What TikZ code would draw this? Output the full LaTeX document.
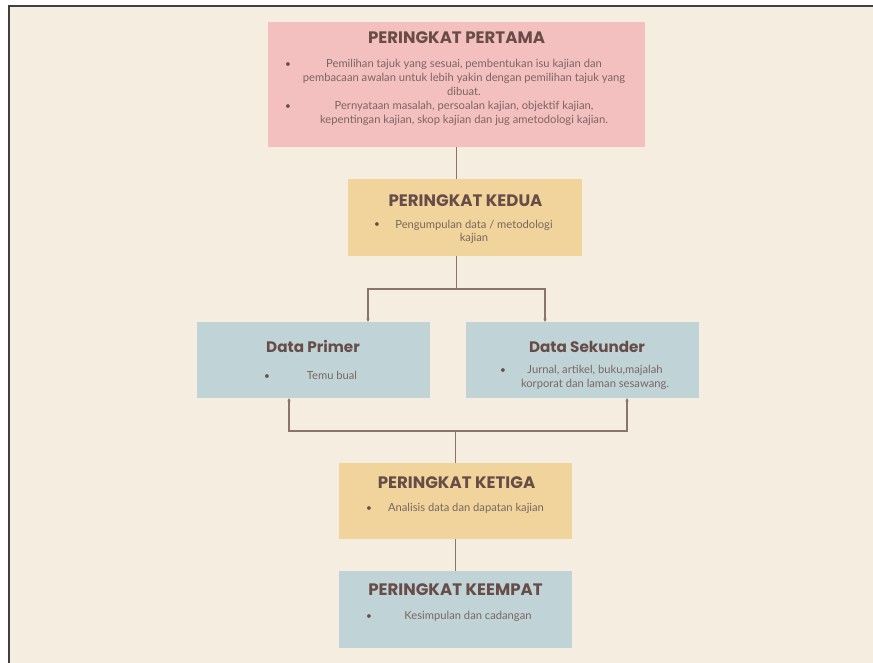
\documentclass[tikz,border=0pt]{standalone}
\usepackage{fontspec}
\usetikzlibrary{arrows.meta}
\newfontfamily\judulfont{Poppins}
\newfontfamily\isifont{Lato}
\definecolor{latarkrim}{RGB}{245,237,223}
\definecolor{merahjambu}{RGB}{244,191,191}
\definecolor{kuningpasir}{RGB}{241,212,155}
\definecolor{birukelabu}{RGB}{192,212,216}
\definecolor{judulcoklat}{RGB}{104,76,71}
\definecolor{isicoklat}{RGB}{122,102,97}
\definecolor{garisan}{RGB}{139,116,107}

\tikzset{
  kotak/.style={inner sep=0pt, outer sep=0pt},
  judul/.style={font=\judulfont\bfseries\fontsize{16.6}{16.6}\selectfont, text=judulcoklat, anchor=base, inner sep=0pt},
  judulkecil/.style={judul, font=\judulfont\bfseries\fontsize{15.2}{15.2}\selectfont},
  isi/.style={font=\isifont\fontsize{11.2}{13.9}\selectfont, text=isicoklat, align=center, anchor=base, inner sep=0pt},
  titik/.style={font=\isifont\fontsize{10}{10}\selectfont, text=judulcoklat, anchor=base, inner sep=0pt},
  garis/.style={draw=garisan, line width=1.2pt},
  panah/.style={garis, -{Stealth[length=3.5pt,width=3.2pt]}}
}

\begin{document}
\begin{tikzpicture}[x=1pt,y=-1pt]
  \useasboundingbox (0,0) rectangle (873,663);
  % latar dan bingkai
  \fill[white] (0,0) rectangle (873,663);
  \fill[latarkrim] (9.2,5.8) rectangle (873,663);
  \draw[line width=1.7pt, black!75] (9.2,663) -- (9.2,5.8) -- (873,5.8);

  % kotak-kotak peringkat
  \node[kotak, fill=merahjambu, minimum width=377pt, minimum height=125pt] (pertama) at (456.5,84.5) {};
  \node[kotak, fill=kuningpasir, minimum width=234pt, minimum height=77pt] (kedua) at (465,217.5) {};
  \node[kotak, fill=birukelabu, minimum width=233pt, minimum height=76pt] (primer) at (313.5,360) {};
  \node[kotak, fill=birukelabu, minimum width=233pt, minimum height=76pt] (sekunder) at (582.5,360) {};
  \node[kotak, fill=kuningpasir, minimum width=233pt, minimum height=76pt] (ketiga) at (455.5,501) {};
  \node[kotak, fill=birukelabu, minimum width=233pt, minimum height=77pt] (keempat) at (455.5,609.5) {};

  % tajuk
  \node[judul] (pertama-judul) at (456.5,44) {PERINGKAT PERTAMA};
  \node[judul] (kedua-judul) at (465.5,207) {PERINGKAT KEDUA};
  \node[judulkecil] (primer-judul) at (313,352) {Data Primer};
  \node[judulkecil] (sekunder-judul) at (587,352) {Data Sekunder};
  \node[judul] (ketiga-judul) at (456.5,488) {PERINGKAT KETIGA};
  \node[judul] (keempat-judul) at (455.5,595) {PERINGKAT KEEMPAT};

  % isi (titik dasar = baris terakhir)
  \node[isi] (pertama-isi) at (464,123.5) {Pemilihan tajuk yang sesuai, pembentukan isu kajian dan\\pembacaan awalan untuk lebih yakin dengan pemilihan tajuk yang\\dibuat.\\Pernyataan masalah, persoalan kajian, objektif kajian,\\kepentingan kajian, skop kajian dan jug ametodologi kajian.};
  \node[titik] (pertama-titik1) at (288,68) {\textbullet};
  \node[titik] (pertama-titik2) at (288,109.6) {\textbullet};
  \node[isi] (kedua-isi) at (474,242) {Pengumpulan data / metodologi\\kajian};
  \node[titik] (kedua-titik) at (377,228) {\textbullet};
  \node[isi] (primer-isi) at (332,379) {Temu bual};
  \node[titik] (primer-titik) at (267,379) {\textbullet};
  \node[isi] (sekunder-isi) at (595,387) {Jurnal, artikel, buku,majalah\\korporat dan laman sesawang.};
  \node[titik] (sekunder-titik) at (503,373) {\textbullet};
  \node[isi] (ketiga-isi) at (466,511) {Analisis data dan dapatan kajian};
  \node[titik] (ketiga-titik) at (369,511) {\textbullet};
  \node[isi] (keempat-isi) at (468,619) {Kesimpulan dan cadangan};
  \node[titik] (keempat-titik) at (369,619) {\textbullet};

  % garis penghubung
  \draw[garis] (pertama.south) -- (pertama.south |- kedua.north);
  \draw[garis] (pertama.south |- kedua.south) -- ++(0,33) coordinate (cabang);
  \draw[panah] (cabang) -| ([xshift=54.5pt]primer.north);
  \draw[panah] (cabang) -| ([xshift=-37.5pt]sekunder.north);
  \draw[garis] (ketiga.north) -- ++(0,-32) coordinate (gabung);
  \draw[panah] (gabung) -| ([xshift=-24.5pt]primer.south);
  \draw[panah] (gabung) -| ([xshift=44.5pt]sekunder.south);
  \draw[garis] (ketiga) -- (keempat);
\end{tikzpicture}
\end{document}
